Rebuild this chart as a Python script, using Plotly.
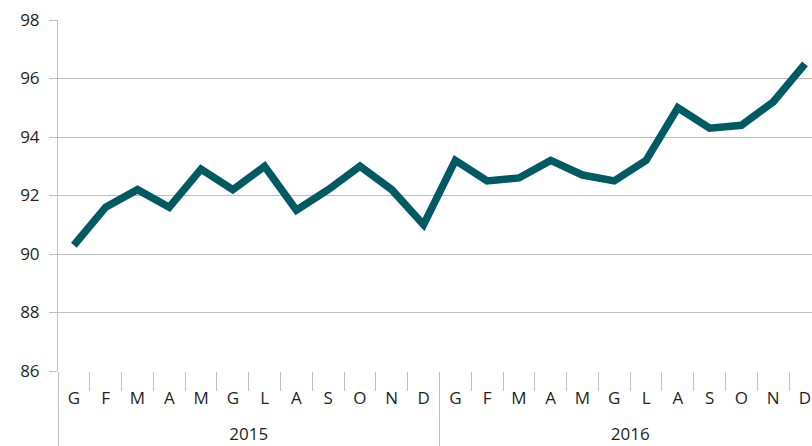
import plotly.graph_objects as go

months = ["G", "F", "M", "A", "M", "G", "L", "A", "S", "O", "N", "D"]
years = ["2015", "2016"]
values_2015 = [90.3, 91.6, 92.2, 91.6, 92.9, 92.2, 93.0, 91.5, 92.2, 93.0, 92.2, 91.0]
values_2016 = [93.2, 92.5, 92.6, 93.2, 92.7, 92.5, 93.2, 95.0, 94.3, 94.4, 95.2, 96.5]

# make repeated month initials unique within a year using zero-width spaces,
# and add an empty second line so the year row sits lower (as in the reference)
def month_keys_for(labels):
    seen = {}
    out = []
    for lab in labels:
        n = seen.get(lab, 0)
        out.append(lab + "\u200b" * n + "<br><span style='font-size:30px'> </span>")
        seen[lab] = n + 1
    return out

month_keys = month_keys_for(months)
x_years = [years[0]] * len(months) + [years[1]] * len(months)
x_months = month_keys + month_keys
y_vals = values_2015 + values_2016

fig = go.Figure()
fig.add_trace(go.Scatter(
    x=[x_years, x_months],
    y=y_vals,
    mode="lines",
    line=dict(color="#005A64", width=7.5),
    hoverinfo="skip",
))

font_family = "Open Sans, Liberation Sans, sans-serif"
fig.update_layout(
    width=812, height=446,
    margin=dict(l=58, r=0, t=20, b=75, autoexpand=False),
    paper_bgcolor="white",
    plot_bgcolor="white",
    showlegend=False,
    font=dict(family=font_family, size=17, color="#1F1F1F"),
)
fig.update_xaxes(
    type="multicategory",
    automargin=False,
    showgrid=False,
    showline=False,
    ticks="outside",
    tickson="boundaries",
    ticklen=19,
    tickcolor="#BFBFBF",
    tickwidth=1,
    showdividers=True,
    dividercolor="#BFBFBF",
    dividerwidth=1,
    tickfont=dict(size=17, color="#1F1F1F"),
    ticklabelstandoff=15,
    range=[-0.5, 23.22],
)
fig.update_yaxes(
    automargin=False,
    range=[86, 98],
    dtick=2,
    showgrid=True,
    gridcolor="#BFBFBF",
    gridwidth=1,
    zeroline=False,
    showline=True,
    linecolor="#BFBFBF",
    ticks="outside",
    ticklen=8,
    tickcolor="#BFBFBF",
    tickfont=dict(size=17, color="#1F1F1F"),
    ticklabelstandoff=6,
)
fig.write_html(
    "out.html",
    config={"displayModeBar": False},
    post_script="document.body.style.margin='0';document.body.style.overflow='hidden';",
)
